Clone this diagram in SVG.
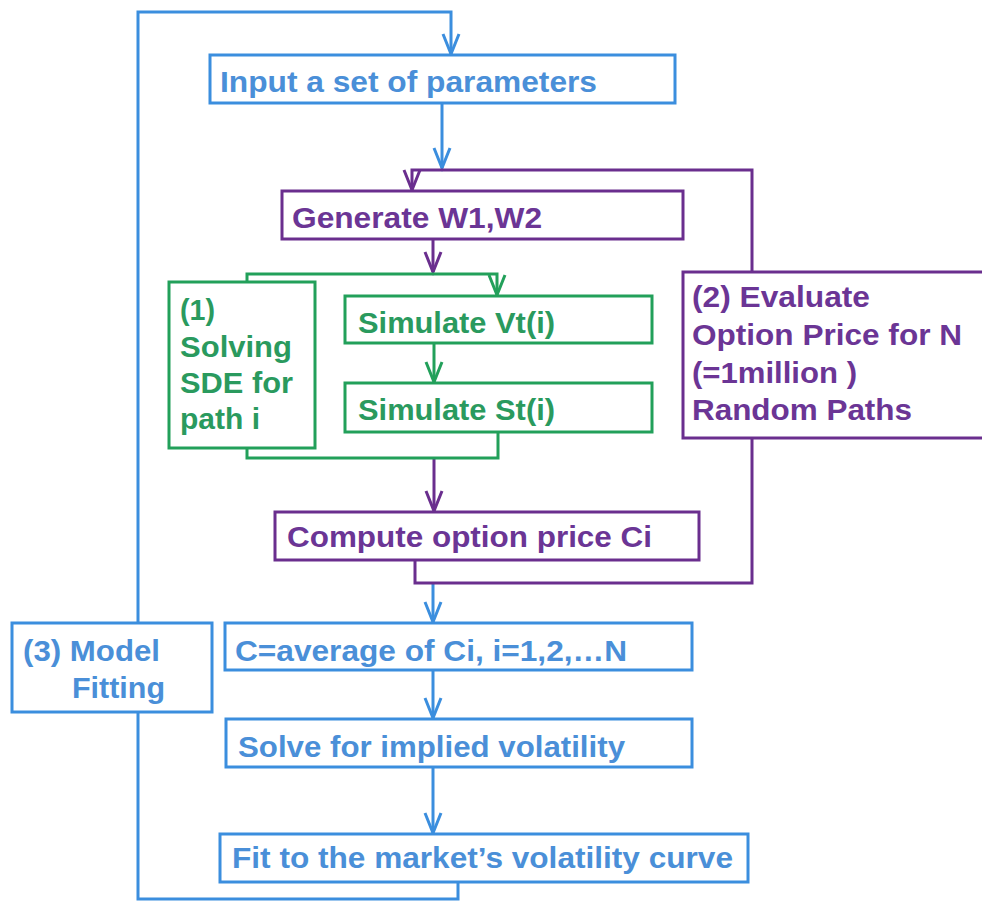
<svg xmlns="http://www.w3.org/2000/svg" width="982" height="904" viewBox="0 0 982 904">
<style>
.box{fill:#fff;stroke-width:3}
.b{stroke:#3b8ede}
.p{stroke:#6a2e8e}
.g{stroke:#22a05a}
.ln{fill:none;stroke-width:3}
.ah{fill:none;stroke-width:3}
text{font-family:"Liberation Sans",Arial,sans-serif;font-weight:bold;font-size:29px}
.tb{fill:#4a8fd8}
.tp{fill:#6b3595}
.tg{fill:#2a9a5e}
</style>
<defs>
<marker id="ab" markerUnits="userSpaceOnUse" markerWidth="26" markerHeight="26" viewBox="-23 -13 26 26" refX="0" refY="0" orient="auto" overflow="visible">
<path class="ah b" d="M-20,-8 L0,0 L-20,8"/>
</marker>
<marker id="ap" markerUnits="userSpaceOnUse" markerWidth="26" markerHeight="26" viewBox="-23 -13 26 26" refX="0" refY="0" orient="auto" overflow="visible">
<path class="ah p" d="M-20,-8 L0,0 L-20,8"/>
</marker>
<marker id="ag" markerUnits="userSpaceOnUse" markerWidth="26" markerHeight="26" viewBox="-23 -13 26 26" refX="0" refY="0" orient="auto" overflow="visible">
<path class="ah g" d="M-20,-8 L0,0 L-20,8"/>
</marker>
</defs>
<rect width="982" height="904" fill="#fff"/>
<g id="connectors">
<path class="ln b" d="M458,882 V899 H138 V12 H451 V54" marker-end="url(#ab)"/>
<path class="ln b" d="M442,103 V168" marker-end="url(#ab)"/>
<path class="ln b" d="M433,583 V622" marker-end="url(#ab)"/>
<path class="ln b" d="M433,670 V718" marker-end="url(#ab)"/>
<path class="ln b" d="M433,767 V833" marker-end="url(#ab)"/>
<path class="ln p" d="M415,560 V583 H752 V170 H412 V190" marker-end="url(#ap)"/>
<path class="ln p" d="M433,239 V272" marker-end="url(#ap)"/>
<path class="ln p" d="M434,458 V511" marker-end="url(#ap)"/>
<path class="ln g" d="M247,282 V274 H497 V295" marker-end="url(#ag)"/>
<path class="ln g" d="M434,343 V382" marker-end="url(#ag)"/>
<path class="ln g" d="M498,432 V458 H247 V448"/>
</g>
<g id="input">
<rect class="box b" x="210" y="55" width="465" height="48"/>
<text class="tb" x="220" y="92" textLength="377" lengthAdjust="spacingAndGlyphs">Input a set of parameters</text>
</g>
<g id="generate">
<rect class="box p" x="282" y="191" width="401" height="48"/>
<text class="tp" x="292" y="228" textLength="250" lengthAdjust="spacingAndGlyphs">Generate W1,W2</text>
</g>
<g id="sde">
<rect class="box g" x="169" y="282" width="146" height="166"/>
<text class="tg" x="180" y="320" textLength="35" lengthAdjust="spacingAndGlyphs">(1)</text>
<text class="tg" x="180" y="357" textLength="112" lengthAdjust="spacingAndGlyphs">Solving</text>
<text class="tg" x="180" y="393" textLength="113" lengthAdjust="spacingAndGlyphs">SDE for</text>
<text class="tg" x="180" y="429" textLength="80" lengthAdjust="spacingAndGlyphs">path i</text>
</g>
<g id="simvt">
<rect class="box g" x="345" y="296" width="307" height="47"/>
<text class="tg" x="358" y="333" textLength="197" lengthAdjust="spacingAndGlyphs">Simulate Vt(i)</text>
</g>
<g id="simst">
<rect class="box g" x="345" y="383" width="307" height="49"/>
<text class="tg" x="358" y="420" textLength="197" lengthAdjust="spacingAndGlyphs">Simulate  St(i)</text>
</g>
<g id="compute">
<rect class="box p" x="275" y="512" width="424" height="48"/>
<text class="tp" x="287" y="547" textLength="365" lengthAdjust="spacingAndGlyphs">Compute option price Ci</text>
</g>
<g id="evaluate">
<rect class="box p" x="683" y="272" width="310" height="166"/>
<text class="tp" x="692" y="307" textLength="178" lengthAdjust="spacingAndGlyphs">(2) Evaluate</text>
<text class="tp" x="692" y="345" textLength="270" lengthAdjust="spacingAndGlyphs">Option Price for N</text>
<text class="tp" x="692" y="383" textLength="165" lengthAdjust="spacingAndGlyphs">(=1million )</text>
<text class="tp" x="692" y="420" textLength="220" lengthAdjust="spacingAndGlyphs">Random Paths</text>
</g>
<g id="modelfit">
<rect class="box b" x="12" y="623" width="200" height="89"/>
<text class="tb" x="23" y="661" textLength="137" lengthAdjust="spacingAndGlyphs">(3) Model</text>
<text class="tb" x="72" y="698" textLength="93" lengthAdjust="spacingAndGlyphs">Fitting</text>
</g>
<g id="average">
<rect class="box b" x="225" y="623" width="467" height="47"/>
<text class="tb" x="235" y="661" textLength="392" lengthAdjust="spacingAndGlyphs">C=average of Ci, i=1,2,…N</text>
</g>
<g id="solve">
<rect class="box b" x="226" y="719" width="466" height="48"/>
<text class="tb" x="238" y="757" textLength="387" lengthAdjust="spacingAndGlyphs">Solve for implied volatility</text>
</g>
<g id="fit">
<rect class="box b" x="220" y="834" width="528" height="48"/>
<text class="tb" x="232" y="868" textLength="501" lengthAdjust="spacingAndGlyphs">Fit to the market’s volatility curve</text>
</g>
</svg>
